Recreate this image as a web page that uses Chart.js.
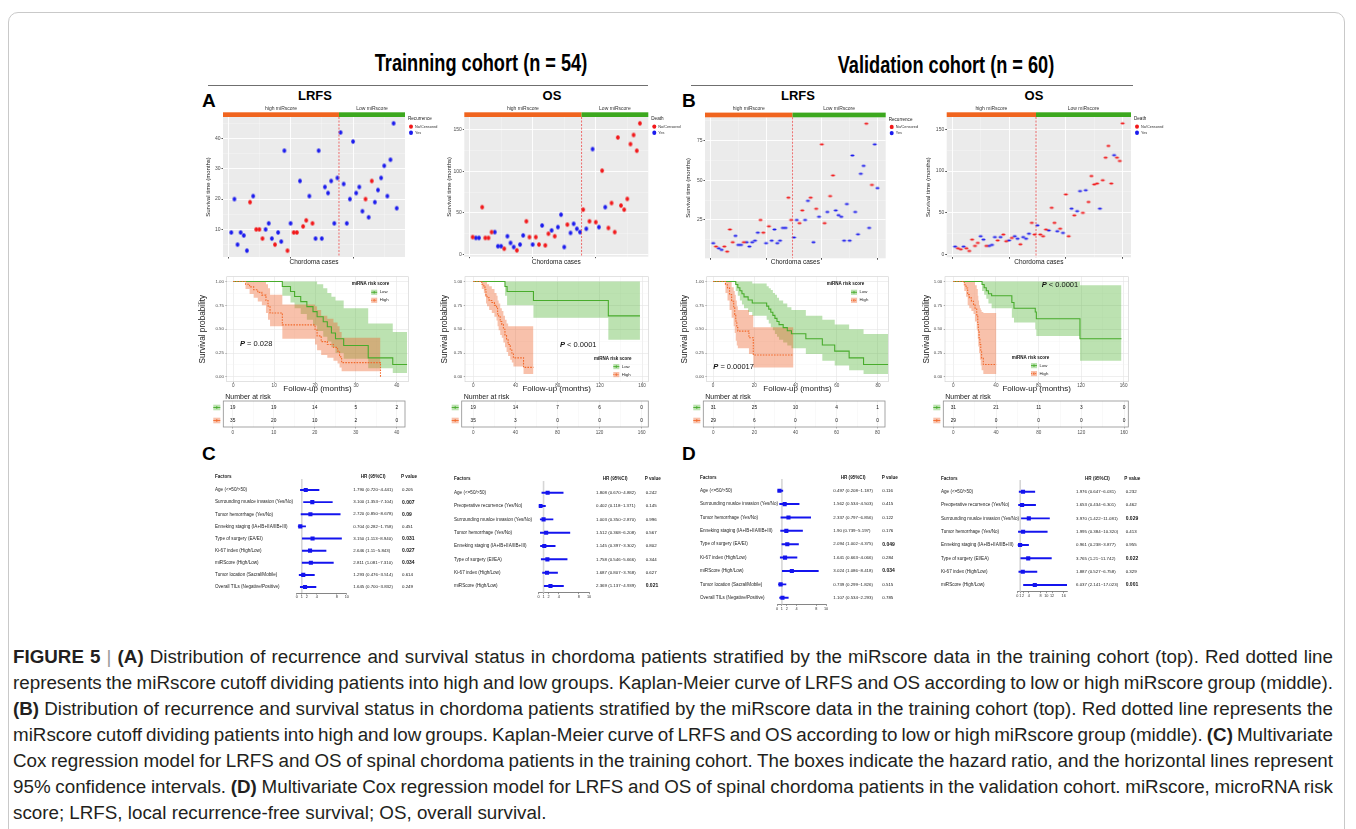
<!DOCTYPE html>
<html>
<head>
<meta charset="utf-8">
<title>Figure 5</title>
<script src="https://cdn.jsdelivr.net/npm/chart.js"></script>
<style>
  html, body { margin: 0; padding: 0; background: #fff; }
  #fig { position: relative; width: 1356px; height: 829px; overflow: hidden;
         font-family: "Liberation Sans", Arial, sans-serif; color: #000; }
  .frame { position: absolute; left: 8px; top: 12px; width: 1337px; height: 900px;
           border: 1px solid #c9c9c9; border-radius: 10px; box-sizing: border-box; }
  .abs { position: absolute; white-space: nowrap; }
  .cohort { font-family: "Liberation Sans", Arial, sans-serif;
            font-weight: bold; font-size: 23px; transform: translate(-50%, -50%) scaleX(0.79); }
  .sub { font-weight: bold; font-size: 13px; transform: translate(-50%, -50%); }
  .letter { font-weight: bold; font-size: 19px; line-height: 19px; }
  .rule { position: absolute; height: 1px; background: #6f6f6f; }
  .cap { position: absolute; left: 13px; font-size: 18.8px; line-height: 24px; color: #231f20; white-space: nowrap; }
  .cap b { font-weight: bold; }
  .cap .bar { color: #9a9a9a; }
</style>
</head>
<body>
<div id="fig">
  <div class="frame"></div>

  <div class="abs cohort" style="left:481px;top:63px">Trainning cohort (n = 54)</div>
  <div class="abs cohort" style="left:946px;top:65px">Validation cohort (n = 60)</div>
  <div class="rule" style="left:208px;top:85px;width:440px"></div>
  <div class="rule" style="left:691px;top:85px;width:442px"></div>

  <div class="abs letter" style="left:202px;top:91px">A</div>
  <div class="abs letter" style="left:682px;top:91px">B</div>
  <div class="abs letter" style="left:202px;top:444px">C</div>
  <div class="abs letter" style="left:682px;top:444px">D</div>

  <div class="abs sub" style="left:315px;top:95px">LRFS</div>
  <div class="abs sub" style="left:552px;top:95px">OS</div>
  <div class="abs sub" style="left:798px;top:95px">LRFS</div>
  <div class="abs sub" style="left:1034px;top:95px">OS</div>

  <div class="cap j" style="top:645px"><span><b>FIGURE 5</b> <span class="bar">|</span> <b>(A)</b> Distribution of recurrence and survival status in chordoma patients stratified by the miRscore data in the training cohort (top). Red dotted line</span></div>
  <div class="cap j" style="top:671px"><span>represents the miRscore cutoff dividing patients into high and low groups. Kaplan-Meier curve of LRFS and OS according to low or high miRscore group (middle).</span></div>
  <div class="cap j" style="top:697px"><span><b>(B)</b> Distribution of recurrence and survival status in chordoma patients stratified by the miRscore data in the training cohort (top). Red dotted line represents the</span></div>
  <div class="cap j" style="top:723px"><span>miRscore cutoff dividing patients into high and low groups. Kaplan-Meier curve of LRFS and OS according to low or high miRscore group (middle). <b>(C)</b> Multivariate</span></div>
  <div class="cap j" style="top:749px"><span>Cox regression model for LRFS and OS of spinal chordoma patients in the training cohort. The boxes indicate the hazard ratio, and the horizontal lines represent</span></div>
  <div class="cap j" style="top:775px"><span>95% confidence intervals. <b>(D)</b> Multivariate Cox regression model for LRFS and OS of spinal chordoma patients in the validation cohort. miRscore, microRNA risk</span></div>
  <div class="cap" style="top:801px"><span>score; LRFS, local recurrence-free survival; OS, overall survival.</span></div>
</div>

<script>
// ---------- scatter: survival time (months) per case, sorted by miRscore ----------
const trainLrfsTime = [9, 20, 5, 9, 8, 3, 19, 21, 10, 10, 7, 10, 12, 7, 5, 9, 6, 36, 3, 12,
  9, 9, 26, 11, 13, 21, 12, 7, 36, 7, 24, 22, 26, 12, 27,
  42, 25, 12, 20, 39, 22, 24, 16, 20, 14, 26, 19, 23, 27, 31, 21, 33, 45, 17];
const trainLrfsEvent = [1, 1, 1, 1, 1, 1, 0, 1, 0, 0, 0, 1, 1, 1, 0, 1, 1, 1, 0, 1,
  0, 0, 1, 0, 0, 1, 0, 1, 1, 1, 1, 1, 1, 1, 1,
  1, 1, 1, 1, 1, 1, 1, 1, 0, 1, 0, 1, 1, 1, 1, 1, 1, 1, 1];
const trainOsTime = [21, 20, 20, 57, 20, 20, 27, 27, 10, 10, 7, 22, 14, 9, 5, 12, 23, 40, 21, 12,
  21, 12, 35, 11, 25, 29, 22, 33, 48, 9, 36, 26, 37, 31, 27,
  54, 31, 40, 127, 39, 33, 101, 57, 32, 62, 27, 141, 59, 54, 67, 133, 144, 125, 158];
const trainOsEvent = [0, 1, 1, 0, 0, 0, 0, 1, 1, 1, 0, 1, 1, 1, 0, 1, 1, 0, 0, 1,
  0, 0, 1, 0, 0, 1, 0, 1, 1, 1, 0, 1, 1, 1, 1,
  0, 1, 0, 1, 0, 1, 0, 1, 0, 0, 0, 0, 0, 0, 0, 0, 0, 0, 0];
const valLrfsTime = [10.4, 8.3, 7.2, 6.2, 8.3, 5.1, 19, 11, 15, 9.3, 9.3, 11, 11, 8.3, 11, 12, 17, 25, 17, 10.4,
  21, 12, 19, 10.4, 12, 20, 20, 39, 25,
  14, 25, 23, 31, 25, 37, 39, 11, 32, 27, 72.5, 23, 30, 40, 53, 31, 28, 27, 12, 35,
  12, 65.5, 30, 16, 54, 59, 85.5, 20, 47, 72.5, 45];
const valLrfsEvent = [1, 0, 1, 1, 0, 0, 0, 0, 1, 1, 1, 0, 1, 1, 1, 1, 1, 0, 0, 1,
  0, 1, 1, 1, 1, 1, 1, 0, 0,
  1, 1, 0, 0, 1, 1, 0, 1, 0, 1, 0, 0, 1, 0, 0, 1, 1, 1, 1, 1,
  1, 1, 1, 1, 1, 1, 0, 1, 0, 1, 1];
const valOsTime = [9.6, 7.6, 6.4, 9.6, 7.6, 4.4, 18, 10.4, 14, 22, 18, 10.4, 10.4, 11.6, 21, 17, 21, 24, 16, 17,
  20, 22, 19, 12.4, 21, 19, 25, 38, 24,
  35, 24, 22, 30, 29, 56, 38, 28, 31, 26, 72, 22, 55, 47, 52, 76, 50, 77, 63, 94,
  84, 85, 55, 89, 116, 130, 85, 119, 116, 112, 157];
const valOsEvent = [1, 0, 0, 1, 0, 0, 0, 0, 0, 1, 1, 0, 1, 1, 1, 0, 1, 0, 0, 1,
  0, 1, 1, 0, 1, 1, 1, 0, 0,
  1, 0, 0, 0, 1, 0, 0, 1, 0, 1, 0, 0, 1, 0, 1, 1, 0, 1, 0, 0,
  0, 0, 1, 0, 0, 0, 0, 1, 0, 0, 0];
const nHighTrain = 35;
const nHighVal = 29;

// ---------- Kaplan-Meier steps (time, survival, CI upper, CI lower) ----------
const km1LowT = [0, 12, 14, 15, 16.5, 18, 19.5, 20.5, 22, 23, 24, 25, 27, 33, 39, 42.5];
const km1LowS = [1, 0.947, 0.895, 0.842, 0.789, 0.737, 0.684, 0.631, 0.578, 0.526, 0.46, 0.40, 0.33, 0.20, 0.13, 0.13];
const km1LowUp = [1, 1, 1, 1, 1, 1, 1, 0.97, 0.93, 0.88, 0.84, 0.80, 0.72, 0.56, 0.47, 0.47];
const km1LowLo = [1, 0.85, 0.78, 0.72, 0.66, 0.60, 0.54, 0.48, 0.42, 0.37, 0.31, 0.25, 0.19, 0.09, 0.04, 0.04];
const km1HighT = [0, 3, 4, 5, 6, 7, 8, 8.5, 9, 12, 20, 20.5, 21.5, 23, 24.5, 25.5, 26, 26.5, 36, 36];
const km1HighS = [1, 0.971, 0.943, 0.914, 0.886, 0.857, 0.80, 0.743, 0.67, 0.545, 0.49, 0.43, 0.37, 0.34, 0.31, 0.27, 0.21, 0.15, 0.15, 0];
const km1HighUp = [1, 1, 1, 1, 1, 1, 0.97, 0.93, 0.86, 0.76, 0.74, 0.70, 0.64, 0.61, 0.57, 0.53, 0.47, 0.41, 0.41, 0.41];
const km1HighLo = [1, 0.92, 0.87, 0.83, 0.79, 0.75, 0.67, 0.60, 0.53, 0.40, 0.34, 0.28, 0.23, 0.20, 0.17, 0.14, 0.10, 0.06, 0.06, 0.06];

const km2LowT = [0, 30, 32, 57, 128, 158];
const km2LowS = [1, 0.947, 0.895, 0.80, 0.64, 0.64];
const km2LowUp = [1, 1, 1, 1, 1, 1];
const km2LowLo = [1, 0.85, 0.75, 0.62, 0.39, 0.39];
const km2HighT = [0, 8, 10, 11, 12, 13, 15, 17.5, 20, 22, 23, 24, 25.5, 27, 28.5, 30, 31.5, 33, 35, 36.5, 38, 47.6, 57];
const km2HighS = [1, 0.971, 0.943, 0.914, 0.857, 0.829, 0.80, 0.78, 0.75, 0.72, 0.66, 0.63, 0.58, 0.55, 0.50, 0.44, 0.39, 0.34, 0.29, 0.25, 0.20, 0.10, 0.10];
const km2HighUp = [1, 1, 1, 1, 1, 0.97, 0.95, 0.92, 0.88, 0.85, 0.80, 0.77, 0.72, 0.69, 0.64, 0.60, 0.56, 0.53, 0.53, 0.53, 0.53, 0.53, 0.53];
const km2HighLo = [1, 0.92, 0.88, 0.84, 0.77, 0.74, 0.70, 0.67, 0.63, 0.59, 0.53, 0.49, 0.44, 0.41, 0.36, 0.31, 0.26, 0.22, 0.18, 0.15, 0.11, 0.03, 0.02];

const km3LowT = [0, 11, 12, 13, 14, 15, 17, 19, 26, 27, 28, 29, 30, 31, 32, 34, 36, 38, 45, 53, 59, 66, 73, 85];
const km3LowS = [1, 0.968, 0.935, 0.903, 0.871, 0.839, 0.806, 0.774, 0.742, 0.71, 0.677, 0.645, 0.613, 0.58, 0.548, 0.516, 0.484, 0.452, 0.40, 0.335, 0.27, 0.20, 0.13, 0.13];
const km3LowUp = [1, 1, 1, 1, 1, 1, 1, 0.98, 0.95, 0.93, 0.91, 0.88, 0.86, 0.83, 0.80, 0.77, 0.73, 0.70, 0.64, 0.60, 0.55, 0.50, 0.45, 0.45];
const km3LowLo = [1, 0.90, 0.85, 0.80, 0.76, 0.72, 0.68, 0.64, 0.60, 0.56, 0.52, 0.49, 0.45, 0.42, 0.39, 0.36, 0.33, 0.30, 0.24, 0.17, 0.12, 0.07, 0.03, 0.03];
const km3HighT = [0, 6, 7, 8, 9, 10, 10.5, 11, 11.5, 12, 17.4, 19.5, 39];
const km3HighS = [1, 0.966, 0.931, 0.862, 0.793, 0.724, 0.655, 0.586, 0.517, 0.48, 0.41, 0.23, 0.23];
const km3HighUp = [1, 1, 1, 1, 0.94, 0.90, 0.86, 0.80, 0.74, 0.70, 0.65, 0.52, 0.52];
const km3HighLo = [1, 0.88, 0.80, 0.70, 0.62, 0.53, 0.46, 0.38, 0.33, 0.30, 0.24, 0.10, 0.10];

const km4LowT = [0, 27, 29, 31, 33, 36, 55, 57, 77, 78, 119, 158];
const km4LowS = [1, 0.968, 0.935, 0.903, 0.871, 0.85, 0.78, 0.72, 0.68, 0.61, 0.40, 0.40];
const km4LowUp = [1, 1, 1, 1, 1, 1, 1, 1, 1, 1, 0.96, 0.96];
const km4LowLo = [1, 0.90, 0.86, 0.82, 0.77, 0.72, 0.62, 0.57, 0.50, 0.43, 0.17, 0.17];
const km4HighT = [0, 10.3, 12, 13.5, 15, 17, 19, 20.4, 22, 23, 23.5, 24.2, 25, 25.8, 26.6, 28.2, 40.5];
const km4HighS = [1, 0.966, 0.931, 0.862, 0.828, 0.793, 0.759, 0.72, 0.65, 0.55, 0.48, 0.41, 0.34, 0.27, 0.20, 0.13, 0.13];
const km4HighUp = [1, 1, 1, 1, 1, 1, 1, 0.96, 0.92, 0.85, 0.80, 0.75, 0.72, 0.70, 0.68, 0.67, 0.67];
const km4HighLo = [1, 0.90, 0.84, 0.75, 0.72, 0.69, 0.66, 0.58, 0.50, 0.40, 0.32, 0.25, 0.18, 0.12, 0.07, 0.03, 0.03];

// ---------- number at risk ----------
const risk1Ticks = [0, 10, 20, 30, 40];
const risk1Low = [19, 19, 14, 5, 2];
const risk1High = [35, 20, 10, 2, 0];
const risk2Ticks = [0, 40, 80, 120, 160];
const risk2Low = [19, 14, 7, 6, 0];
const risk2High = [35, 3, 0, 0, 0];
const risk3Ticks = [0, 20, 40, 60, 80];
const risk3Low = [31, 25, 10, 4, 1];
const risk3High = [29, 6, 0, 0, 0];
const risk4Ticks = [0, 40, 80, 120, 160];
const risk4Low = [31, 21, 11, 3, 0];
const risk4High = [29, 0, 0, 0, 0];

// ---------- multivariate Cox (forest plots) ----------
const fcLeftFactors = ['Age (<=50/>50)', 'Surrounding muslce invasion (Yes/No)', 'Tumor hemorrhage (Yes/No)',
  'Enneking staging (IA+IB+IIA/IIB+III)', 'Type of surgery (EA/EI)', 'Ki-67 index (High/Low)',
  'miRScore (High/Low)', 'Tumor location (Sacral/Mobile)', 'Overall TILs (Negative/Positive)'];
const fcRightFactors = ['Age (<=50/>50)', 'Preoperative recurrence (Yes/No)', 'Surrounding muslce invasion (Yes/No)',
  'Tumor hemorrhage (Yes/No)', 'Enneking staging (IA+IB+IIA/IIB+III)', 'Type of surgery (EI/EA)',
  'Ki-67 index (High/Low)', 'miRScore (High/Low)'];

const fcTrainLrfsHR = [1.790, 3.100, 2.720, 0.704, 3.150, 2.646, 2.811, 1.293, 1.645];
const fcTrainLrfsLo = [0.720, 1.353, 0.850, 0.282, 1.113, 1.11, 1.081, 0.476, 0.700];
const fcTrainLrfsHi = [4.441, 7.104, 8.678, 1.758, 8.940, 5.843, 7.310, 3.514, 3.832];
const fcTrainLrfsText = ['1.790 (0.720~4.441)', '3.100 (1.353~7.104)', '2.720 (0.850~8.678)', '0.704 (0.282~1.758)',
  '3.150 (1.113~8.940)', '2.646 (1.11~5.843)', '2.811 (1.081~7.310)', '1.293 (0.476~3.514)', '1.645 (0.700~3.832)'];
const fcTrainLrfsP = ['0.205', '0.007', '0.09', '0.451', '0.031', '0.027', '0.034', '0.614', '0.249'];

const fcTrainOsHR = [1.808, 0.402, 1.003, 1.512, 1.145, 1.758, 1.687, 2.369];
const fcTrainOsLo = [0.670, 0.118, 0.350, 0.368, 0.397, 0.546, 0.807, 1.137];
const fcTrainOsHi = [4.882, 1.371, 2.870, 6.208, 3.302, 5.666, 3.768, 4.939];
const fcTrainOsText = ['1.808 (0.670~4.882)', '0.402 (0.118~1.371)', '1.003 (0.350~2.870)', '1.512 (0.368~6.208)',
  '1.145 (0.397~3.302)', '1.758 (0.546~5.666)', '1.687 (0.807~3.768)', '2.369 (1.137~4.939)'];
const fcTrainOsP = ['0.242', '0.145', '0.996', '0.567', '0.802', '0.344', '0.627', '0.021'];

const fcValLrfsHR = [0.497, 1.562, 2.337, 1.90, 2.094, 1.641, 3.024, 0.739, 1.107];
const fcValLrfsLo = [0.208, 0.534, 0.797, 0.739, 1.002, 0.663, 1.086, 0.299, 0.534];
const fcValLrfsHi = [1.187, 4.503, 6.856, 5.197, 4.375, 4.066, 8.418, 1.826, 2.293];
const fcValLrfsText = ['0.497 (0.208~1.187)', '1.562 (0.534~4.503)', '2.337 (0.797~6.856)', '1.90 (0.739~5.197)',
  '2.094 (1.002~4.375)', '1.641 (0.663~4.066)', '3.024 (1.086~8.418)', '0.739 (0.299~1.826)', '1.107 (0.534~2.293)'];
const fcValLrfsP = ['0.116', '0.415', '0.122', '0.176', '0.049', '0.284', '0.034', '0.515', '0.785'];

const fcValOsHR = [1.976, 1.653, 3.970, 1.995, 0.961, 3.765, 1.887, 6.037];
const fcValOsLo = [0.647, 0.434, 1.422, 0.384, 0.238, 1.21, 0.527, 2.141];
const fcValOsHi = [6.031, 6.301, 11.081, 10.320, 3.877, 11.742, 6.758, 17.023];
const fcValOsText = ['1.976 (0.647~6.031)', '1.653 (0.434~6.301)', '3.970 (1.422~11.081)', '1.995 (0.384~10.320)',
  '0.961 (0.238~3.877)', '3.765 (1.21~11.742)', '1.887 (0.527~6.758)', '6.037 (2.141~17.023)'];
const fcValOsP = ['0.232', '0.462', '0.029', '0.413', '0.955', '0.022', '0.329', '0.001'];

const forestTicks10 = [0, 1, 2, 4, 8, 10];
const forestTicks16 = [0, 1, 2, 4, 8, 10, 12, 16];

// ---------- look ----------
const FONT = '"Liberation Sans", Arial, sans-serif';
const RED = '#F2181A', BLUE = '#1B1BEE';
const STRIP_HIGH = '#F0641E', STRIP_LOW = '#3CA81E';
const KM_GREEN = '#48AC2C', KM_ORANGE = '#F26A2C';
const KM_GREEN_FILL = 'rgba(70,175,40,0.36)', KM_ORANGE_FILL = 'rgba(238,100,45,0.40)';
const FOREST_BLUE = '#1414EE';

Chart.defaults.font.family = FONT;
Chart.defaults.animation = false;
Chart.defaults.responsive = false;
Chart.defaults.events = [];
Chart.defaults.plugins.legend.display = false;
Chart.defaults.plugins.tooltip.enabled = false;

const fig = document.getElementById('fig');

function makeCanvas(l, t, r, b, m) {
  const x = Math.floor(l - m[0]), y = Math.floor(t - m[1]);
  const w = Math.ceil(r + m[2]) - x, h = Math.ceil(b + m[3]) - y;
  const c = document.createElement('canvas');
  c.width = w; c.height = h;
  c.style.cssText = `position:absolute;left:${x}px;top:${y}px;width:${w}px;height:${h}px`;
  fig.appendChild(c);
  return { c, x, y, w, h, left: l - x, top: t - y, right: x + w - r, bottom: y + h - b };
}

function isMajor(v, step) {
  const r = v / step;
  return Math.abs(r - Math.round(r)) < 1e-6;
}

function txt(g, s, x, y, size, opt = {}) {
  g.font = `${opt.italic ? 'italic ' : ''}${opt.bold ? 'bold ' : ''}${size}px ${FONT}`;
  g.fillStyle = opt.color || '#111';
  g.textAlign = opt.align || 'left';
  g.textBaseline = 'middle';
  g.fillText(s, x, y);
  return g.measureText(s).width;
}

function ellipse(color, w, h) {
  const c = document.createElement('canvas');
  c.width = Math.ceil(w) + 2; c.height = Math.ceil(h) + 2;
  const g = c.getContext('2d');
  g.fillStyle = color;
  g.beginPath();
  g.ellipse(c.width / 2, c.height / 2, w / 2, h / 2, 0, 0, Math.PI * 2);
  g.fill();
  return c;
}

// ---------- distribution scatter (top row) ----------
function scatterPanel(o) {
  const f = makeCanvas(o.l, o.t, o.r, o.b, [o.l - o.yTitleX + 5, 18, 48, 10]);
  const pts = flag => o.time.map((v, i) => ({ x: i + 1, y: v, e: o.event[i] })).filter(p => p.e === flag);
  const gridCol = step => c => (isMajor(c.tick.value, step) ? '#ffffff' : 'rgba(255,255,255,0.6)');
  const gridW = step => c => (isMajor(c.tick.value, step) ? 0.9 : 0.45);
  const tickCol = step => c => (isMajor(c.tick.value, step) ? '#444' : 'rgba(0,0,0,0)');

  new Chart(f.c, {
    type: 'scatter',
    data: {
      datasets: [
        { data: pts(0), pointStyle: ellipse(RED, o.dot[0], o.dot[1]), pointRadius: 3 },
        { data: pts(1), pointStyle: ellipse(BLUE, o.dot[0], o.dot[1]), pointRadius: 3 }
      ]
    },
    options: {
      layout: { padding: { left: 0, top: f.top, right: f.right, bottom: 0 } },
      scales: {
        x: {
          type: 'linear', min: o.xMin, max: o.xMax,
          afterFit: s => { s.height = f.bottom; },
          border: { display: false },
          grid: { color: gridCol(20), lineWidth: gridW(20), tickLength: 1.5, tickColor: tickCol(20) },
          ticks: { stepSize: 10, includeBounds: false, callback: () => '', padding: 0 },
          title: { display: true, text: 'Chordoma cases', color: '#1a1a1a', font: { size: 6.5 },
                   padding: { top: 0, bottom: f.h - (o.xTitleY - f.y) - 3.9 } }
        },
        y: {
          min: o.yMin, max: o.yMax,
          afterFit: s => { s.width = f.left; },
          border: { display: false },
          grid: { color: gridCol(o.yMajor), lineWidth: gridW(o.yMajor), tickLength: 1.5, tickColor: tickCol(o.yMajor) },
          ticks: { stepSize: o.yMajor / 2, includeBounds: false, padding: 1,
                   callback: v => (isMajor(v, o.yMajor) ? v : ''), font: { size: 5 }, color: '#4d4d4d' },
          title: { display: true, text: 'Survival time (months)', color: '#1a1a1a', font: { size: 6 },
                   padding: { top: o.yTitleX - f.x - 3.6, bottom: 0 } }
        }
      }
    },
    plugins: [{
      id: 'ggpanel',
      beforeDraw(ch) {
        const a = ch.chartArea, g = ch.ctx;
        g.save();
        g.fillStyle = '#EBEBEB';
        g.fillRect(a.left, a.top, a.right - a.left, a.bottom - a.top);
        g.restore();
      },
      afterDraw(ch) {
        const a = ch.chartArea, g = ch.ctx;
        const sx = ch.scales.x.getPixelForValue(o.nHigh + 0.5);
        g.save();
        // cutoff line
        g.strokeStyle = '#EE4B4B'; g.lineWidth = 0.8; g.setLineDash([2, 1.5]);
        g.beginPath(); g.moveTo(sx, a.top); g.lineTo(sx, a.bottom); g.stroke();
        g.setLineDash([]);
        // group strip
        g.fillStyle = STRIP_HIGH; g.fillRect(a.left, a.top - 4.7, sx - a.left, 4.7);
        g.fillStyle = STRIP_LOW; g.fillRect(sx, a.top - 4.7, a.right - sx, 4.7);
        txt(g, 'high miRscore', (a.left + sx) / 2, a.top - 8.8, 5, { align: 'center', color: '#333' });
        txt(g, 'Low miRscore', (sx + a.right) / 2, a.top - 8.8, 5, { align: 'center', color: '#333' });
        // legend
        const lx = a.right + 3;
        txt(g, o.legendTitle, lx, a.top + 2, 4.6, { color: '#222' });
        const items = [[RED, 'No/Censored'], [BLUE, 'Yes']];
        items.forEach((it, i) => {
          const yy = a.top + 9.6 + i * 6.2;
          g.fillStyle = it[0];
          g.beginPath(); g.ellipse(lx + 3, yy, 2, 2.2, 0, 0, Math.PI * 2); g.fill();
          txt(g, it[1], lx + 7, yy, 3.8, { color: '#333' });
        });
        g.restore();
      }
    }]
  });
}

// ---------- Kaplan-Meier (middle row) ----------
const KM_T = 276.7, KM_B = 381.7;

function kmPanel(o) {
  const f = makeCanvas(o.l, KM_T, o.r, KM_B, [o.l - o.yTitleX + 6, 4, 3, 14]);
  const pts = (t, s) => t.map((x, i) => ({ x, y: s[i] }));
  const band = { pointRadius: 0, borderWidth: 0, borderColor: 'rgba(0,0,0,0)', stepped: true };
  const gridCol = step => c => (isMajor(c.tick.value, step) ? '#E4E4E4' : '#F2F2F2');
  const gridW = step => c => (isMajor(c.tick.value, step) ? 0.6 : 0.4);
  const tickCol = step => c => (isMajor(c.tick.value, step) ? '#555' : 'rgba(0,0,0,0)');

  new Chart(f.c, {
    type: 'line',
    data: {
      datasets: [
        { ...band, data: pts(o.low.t, o.low.up), fill: '+1', backgroundColor: KM_GREEN_FILL, order: 4 },
        { ...band, data: pts(o.low.t, o.low.lo), fill: false, order: 4 },
        { ...band, data: pts(o.high.t, o.high.up), fill: '+1', backgroundColor: KM_ORANGE_FILL, order: 3 },
        { ...band, data: pts(o.high.t, o.high.lo), fill: false, order: 3 },
        { data: pts(o.low.t, o.low.s), stepped: true, borderColor: KM_GREEN, borderWidth: 1.1, pointRadius: 0, fill: false, order: 1 },
        { data: pts(o.high.t, o.high.s), stepped: true, borderColor: KM_ORANGE, borderWidth: 1.1,
          borderDash: [1.6, 1.2], pointRadius: 0, fill: false, order: 0 }
      ]
    },
    options: {
      layout: { padding: { left: 0, top: f.top, right: f.right, bottom: 0 } },
      scales: {
        x: {
          type: 'linear', min: o.xMin, max: o.xMax,
          afterFit: s => { s.height = f.bottom; },
          border: { display: false },
          grid: { color: gridCol(o.xStep), lineWidth: gridW(o.xStep), tickLength: 1.2, tickColor: tickCol(o.xStep) },
          ticks: { stepSize: o.xStep / 2, includeBounds: false, padding: 0.3, maxRotation: 0, autoSkip: false,
                   callback: v => (isMajor(v, o.xStep) ? String(v) : ''), font: { size: 4.6 }, color: '#4d4d4d' },
          title: { display: true, text: 'Follow-up (months)', color: '#1a1a1a', font: { size: 8 },
                   padding: { top: 0, bottom: f.h - (389 - f.y) - 4.8 } }
        },
        y: {
          min: -0.05, max: 1.05,
          afterFit: s => { s.width = f.left; },
          border: { display: false },
          grid: { color: gridCol(0.25), lineWidth: gridW(0.25), tickLength: 1.2, tickColor: tickCol(0.25) },
          ticks: { stepSize: 0.125, includeBounds: false, padding: 1.5, autoSkip: false,
                   callback: v => (isMajor(v, 0.25) ? v.toFixed(2) : ''), font: { size: 4.4 }, color: '#4d4d4d' },
          title: { display: true, text: 'Survival probability', color: '#1a1a1a', font: { size: 8.2 },
                   padding: { top: o.yTitleX - f.x - 4.9, bottom: 0 } }
        }
      }
    },
    plugins: [{
      id: 'kmDeco',
      afterDraw(ch) {
        const a = ch.chartArea, g = ch.ctx;
        g.save();
        g.strokeStyle = '#CFCFCF'; g.lineWidth = 0.6;
        g.strokeRect(a.left, a.top, a.right - a.left, a.bottom - a.top);
        // p value
        const px = o.p[1] - f.x, py = o.p[2] - f.y;
        const w = txt(g, 'P', px, py, 7.5, { bold: true, italic: true, color: '#111' });
        txt(g, o.p[0], px + w, py, 7.5, { color: '#111' });
        // legend
        const lx = o.leg[0] - f.x, ly = o.leg[1] - f.y;
        txt(g, 'miRNA risk score', lx, ly, 4.5, { bold: true, color: '#111' });
        [[KM_GREEN, KM_GREEN_FILL, 'Low', false], [KM_ORANGE, KM_ORANGE_FILL, 'High', true]].forEach((it, i) => {
          const yy = ly + 8.3 + i * 8;
          const sx = lx + o.leg[2];
          g.fillStyle = it[1]; g.fillRect(sx, yy - 2.6, 6, 5.2);
          g.strokeStyle = it[0]; g.lineWidth = 0.9;
          g.setLineDash(it[3] ? [1.2, 0.8] : []);
          g.beginPath(); g.moveTo(sx, yy); g.lineTo(sx + 6, yy); g.stroke();
          g.setLineDash([]);
          g.beginPath(); g.moveTo(sx + 3, yy - 1.3); g.lineTo(sx + 3, yy + 1.3); g.stroke();
          txt(g, it[2], sx + 8.5, yy, 4.3, { color: '#222' });
        });
        g.restore();
      }
    }]
  });
}

// ---------- number-at-risk tables ----------
function riskPanel(o) {
  const f = makeCanvas(o.l, 401, o.r, 427, [13, 9, 2, 10]);
  const rows = ['Low', 'High'];
  const data = o.ticks.map((x, i) => ({ x, y: 'Low', n: o.low[i] }))
    .concat(o.ticks.map((x, i) => ({ x, y: 'High', n: o.high[i] })));
  const step = o.ticks[1] - o.ticks[0];
  new Chart(f.c, {
    type: 'scatter',
    data: { datasets: [{ data, pointRadius: 0 }] },
    options: {
      layout: { padding: { left: f.left, top: f.top, right: f.right, bottom: 0 } },
      scales: {
        x: {
          type: 'linear', min: o.xMin, max: o.xMax,
          afterFit: s => { s.height = f.bottom; },
          border: { display: false },
          grid: { color: c => (isMajor(c.tick.value, step) ? '#E6E6E6' : '#F3F3F3'), lineWidth: 0.5,
                  tickLength: 1.5, tickColor: c => (isMajor(c.tick.value, step) ? '#666' : 'rgba(0,0,0,0)') },
          ticks: { stepSize: step / 2, includeBounds: false, padding: 1.4, autoSkip: false, maxRotation: 0,
                   callback: v => (isMajor(v, step) ? String(v) : ''), font: { size: 4.6 }, color: '#4d4d4d' }
        },
        y: { type: 'category', labels: rows, offset: true, display: false }
      }
    },
    plugins: [{
      id: 'riskDeco',
      afterDraw(ch) {
        const a = ch.chartArea, g = ch.ctx;
        g.save();
        g.strokeStyle = '#8f8f8f'; g.lineWidth = 0.8;
        g.strokeRect(a.left, a.top, a.right - a.left, a.bottom - a.top);
        ch.getDatasetMeta(0).data.forEach((el, i) => {
          txt(g, String(data[i].n), el.x, el.y, 4.8, { align: 'center', color: '#111' });
        });
        txt(g, 'Number at risk', a.left + 2, a.top - 4.3, 7, { color: '#1a1a1a' });
        [[KM_GREEN, KM_GREEN_FILL], [KM_ORANGE, KM_ORANGE_FILL]].forEach((c, i) => {
          const yy = ch.scales.y.getPixelForValue(i);
          const sx = a.left - 10;
          g.fillStyle = c[1]; g.fillRect(sx, yy - 2.8, 7, 5.6);
          g.strokeStyle = c[0]; g.lineWidth = 0.9;
          g.beginPath(); g.moveTo(sx, yy); g.lineTo(sx + 7, yy); g.stroke();
          g.beginPath(); g.moveTo(sx + 3.5, yy - 1.4); g.lineTo(sx + 3.5, yy + 1.4); g.stroke();
        });
        g.restore();
      }
    }]
  });
}

// ---------- forest plots (bottom row) ----------
function forestPanel(o) {
  const n = o.factors.length;
  const t = o.row0 - o.step / 2, b = t + o.step * n;
  const f = makeCanvas(o.l, t, o.r, b, [o.l - o.factorX + 3, t - o.headY + 6, o.pX + 22 - o.r, 12]);
  new Chart(f.c, {
    type: 'bar',
    data: {
      labels: o.factors,
      datasets: [
        { type: 'line', indexAxis: 'y', data: o.hr.map((v, i) => ({ x: v, y: o.factors[i] })), showLine: false,
          pointStyle: 'rect', pointRadius: 2.9, pointBackgroundColor: FOREST_BLUE, pointBorderWidth: 0,
          pointBorderColor: 'rgba(0,0,0,0)', order: 0 },
        { data: o.lo.map((v, i) => [v, o.hi[i]]), backgroundColor: FOREST_BLUE, barThickness: 1.3, order: 1 }
      ]
    },
    options: {
      indexAxis: 'y',
      layout: { padding: { left: f.left, top: f.top, right: f.right, bottom: 0 } },
      scales: {
        x: {
          type: 'linear', min: 0, max: o.xMax,
          afterFit: s => { s.height = f.bottom; },
          afterBuildTicks: s => { s.ticks = o.ticks.map(v => ({ value: v })); },
          border: { display: true, color: '#333', width: 0.6 },
          grid: { drawOnChartArea: false, drawTicks: true, tickLength: 1.5, color: '#333', lineWidth: 0.5 },
          ticks: { padding: 0.3, autoSkip: false, maxRotation: 0, font: { size: 3.8 }, color: '#333' }
        },
        y: { display: false }
      }
    },
    plugins: [{
      id: 'forestDeco',
      beforeDatasetsDraw(ch) {
        const a = ch.chartArea, g = ch.ctx;
        const x1 = ch.scales.x.getPixelForValue(1);
        g.save();
        g.strokeStyle = '#D6D6D6'; g.lineWidth = 1.6;
        g.beginPath(); g.moveTo(x1, a.top - 5); g.lineTo(x1, a.bottom); g.stroke();
        g.restore();
      },
      afterDraw(ch) {
        const g = ch.ctx, ys = ch.scales.y;
        const hy = o.headY - f.y;
        g.save();
        txt(g, 'Factors', o.factorX - f.x, hy, 4.6, { bold: true, color: '#222' });
        txt(g, 'HR (95%CI)', o.hrHeadX - f.x, hy, 4.6, { bold: true, color: '#222' });
        txt(g, 'P value', o.pHeadX - f.x, hy, 4.6, { bold: true, color: '#222' });
        o.factors.forEach((lab, i) => {
          const yy = ys.getPixelForValue(i);
          txt(g, lab, o.factorX - f.x, yy, 4.6, { color: '#222' });
          txt(g, o.text[i], o.hrX - f.x, yy, 4.4, { color: '#222' });
          const sig = parseFloat(o.p[i]) < 0.1;
          txt(g, o.p[i], o.pX - f.x, yy, sig ? 5 : 4.4, { bold: sig, color: '#111' });
        });
        g.restore();
      }
    }]
  });
}

// ---------- build ----------
scatterPanel({ l: 223, t: 117, r: 405, b: 257, xMin: -1.65, xMax: 56.65, yMin: 0.9, yMax: 47.1, yMajor: 10,
  time: trainLrfsTime, event: trainLrfsEvent, nHigh: nHighTrain, legendTitle: 'Recurrence',
  dot: [3.6, 4.6], xTitleY: 262, yTitleX: 208 });
scatterPanel({ l: 464.3, t: 117, r: 648.3, b: 256.7, xMin: -1.65, xMax: 56.65, yMin: -2.65, yMax: 165.65, yMajor: 50,
  time: trainOsTime, event: trainOsEvent, nHigh: nHighTrain, legendTitle: 'Death',
  dot: [3.6, 4.6], xTitleY: 262, yTitleX: 449 });
scatterPanel({ l: 705, t: 117.3, r: 885.7, b: 258.3, xMin: -1.95, xMax: 62.95, yMin: 0.9, yMax: 89.5, yMajor: 25,
  time: valLrfsTime, event: valLrfsEvent, nHigh: nHighVal, legendTitle: 'Recurrence',
  dot: [4.2, 2.2], xTitleY: 262.7, yTitleX: 688.3 });
scatterPanel({ l: 946.7, t: 117, r: 1131, b: 257.3, xMin: -1.95, xMax: 62.95, yMin: -3.2, yMax: 164.6, yMajor: 50,
  time: valOsTime, event: valOsEvent, nHigh: nHighVal, legendTitle: 'Death',
  dot: [4.2, 2.2], xTitleY: 262.7, yTitleX: 928.3 });

kmPanel({ l: 226.7, r: 408.3, xMin: -1.6, xMax: 42.8, xStep: 10, yTitleX: 203,
  low: { t: km1LowT, s: km1LowS, up: km1LowUp, lo: km1LowLo },
  high: { t: km1HighT, s: km1HighS, up: km1HighUp, lo: km1HighLo },
  p: [' = 0.028', 240, 344], leg: [351.7, 284, 19.5] });
kmPanel({ l: 465, r: 648.3, xMin: -7.9, xMax: 165.9, xStep: 40, yTitleX: 445,
  low: { t: km2LowT, s: km2LowS, up: km2LowUp, lo: km2LowLo },
  high: { t: km2HighT, s: km2HighS, up: km2HighUp, lo: km2HighLo },
  p: [' < 0.0001', 560, 345], leg: [594, 358.3, 19.3] });
kmPanel({ l: 706.7, r: 888.3, xMin: -3.1, xMax: 85, xStep: 20, yTitleX: 684.3,
  low: { t: km3LowT, s: km3LowS, up: km3LowUp, lo: km3LowLo },
  high: { t: km3HighT, s: km3HighS, up: km3HighUp, lo: km3HighLo },
  p: [' = 0.00017', 713.3, 367.3], leg: [826.7, 284, 24.3] });
kmPanel({ l: 945, r: 1128.3, xMin: -7.8, xMax: 164.4, xStep: 40, yTitleX: 926.7,
  low: { t: km4LowT, s: km4LowS, up: km4LowUp, lo: km4LowLo },
  high: { t: km4HighT, s: km4HighS, up: km4HighUp, lo: km4HighLo },
  p: [' < 0.0001', 1041.7, 285], leg: [1011.7, 357.3, 19.3] });

riskPanel({ l: 223.3, r: 405, xMin: -2.29, xMax: 42.02, ticks: risk1Ticks, low: risk1Low, high: risk1High });
riskPanel({ l: 461.7, r: 648.3, xMin: -11, xMax: 166.3, ticks: risk2Ticks, low: risk2Low, high: risk2High });
riskPanel({ l: 703.3, r: 885, xMin: -4.87, xMax: 83.6, ticks: risk3Ticks, low: risk3Low, high: risk3High });
riskPanel({ l: 943.3, r: 1128.3, xMin: -9.4, xMax: 164, ticks: risk4Ticks, low: risk4Low, high: risk4High });

forestPanel({ l: 296.8, r: 346.8, xMax: 10, ticks: forestTicks10, row0: 490, step: 12.13, headY: 477,
  factors: fcLeftFactors, hr: fcTrainLrfsHR, lo: fcTrainLrfsLo, hi: fcTrainLrfsHi, text: fcTrainLrfsText, p: fcTrainLrfsP,
  factorX: 215, hrX: 353.3, hrHeadX: 360.7, pX: 402, pHeadX: 401 });
forestPanel({ l: 538.5, r: 589, xMax: 10, ticks: forestTicks10, row0: 492.7, step: 13.33, headY: 479,
  factors: fcRightFactors, hr: fcTrainOsHR, lo: fcTrainOsLo, hi: fcTrainOsHi, text: fcTrainOsText, p: fcTrainOsP,
  factorX: 454, hrX: 596, hrHeadX: 602.7, pX: 645.7, pHeadX: 644.7 });
forestPanel({ l: 777, r: 826.1, xMax: 10, ticks: forestTicks10, row0: 490.7, step: 13.38, headY: 477.3,
  factors: fcLeftFactors, hr: fcValLrfsHR, lo: fcValLrfsLo, hi: fcValLrfsHi, text: fcValLrfsText, p: fcValLrfsP,
  factorX: 700, hrX: 833.3, hrHeadX: 840.7, pX: 882.3, pHeadX: 881.7 });
forestPanel({ l: 1017.3, r: 1067.2, xMax: 17.2, ticks: forestTicks16, row0: 491.7, step: 13.33, headY: 478.3,
  factors: fcRightFactors, hr: fcValOsHR, lo: fcValOsLo, hi: fcValOsHi, text: fcValOsText, p: fcValOsP,
  factorX: 941, hrX: 1076, hrHeadX: 1085, pX: 1125.7, pHeadX: 1124.3 });

// justify caption lines to the text block width
const capWidth = 1320;
document.querySelectorAll('.cap.j > span').forEach(span => {
  const natural = span.getBoundingClientRect().width;
  const spaces = (span.textContent.match(/ /g) || []).length;
  if (spaces) span.style.wordSpacing = ((capWidth - natural) / spaces) + 'px';
});
</script>
</body>
</html>
